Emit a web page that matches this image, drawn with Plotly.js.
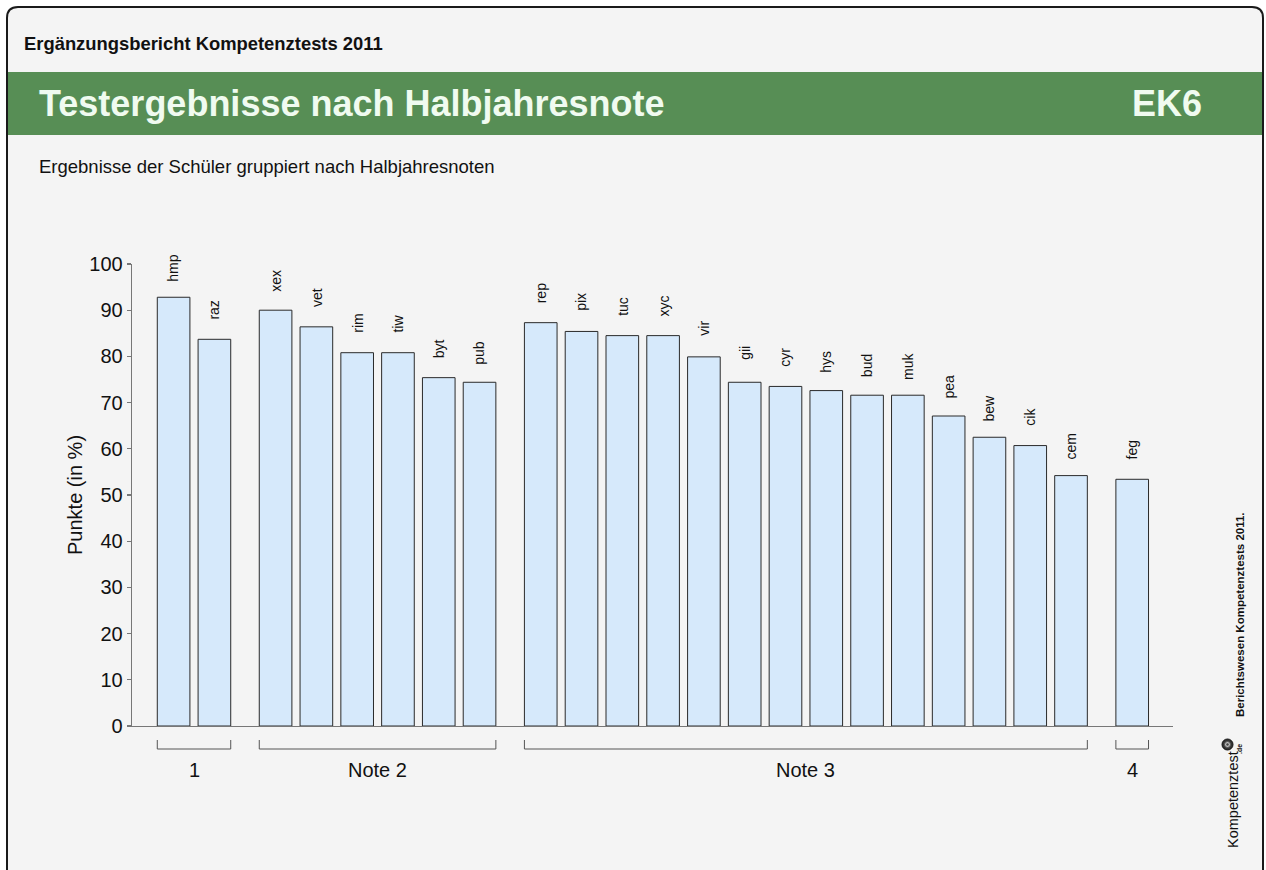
<!DOCTYPE html>
<html>
<head>
<meta charset="utf-8">
<script src="https://cdn.plot.ly/plotly-3.0.1.min.js"></script>
<style>
html,body{margin:0;padding:0;background:#ffffff;}
#chart{width:1266px;height:870px;}
</style>
</head>
<body>
<div id="chart"></div>
<script>
// ---- data ----
const categories = ['hmp','raz','xex','vet','rim','tiw','byt','pub','rep','pix','tuc','xyc','vir','gii','cyr','hys','bud','muk','pea','bew','cik','cem','feg'];
const values = [92.8,83.7,90.0,86.4,80.8,80.8,75.4,74.4,87.3,85.4,84.5,84.5,79.9,74.4,73.5,72.6,71.6,71.6,67.1,62.5,60.7,54.2,53.4];
const groupLabels = ['1','Note 2','Note 3','4'];
const groupSizes = [2,6,14,1];
const yTickVals = [0,10,20,30,40,50,60,70,80,90,100];

const headerText = 'Ergänzungsbericht Kompetenztests 2011';
const titleText = 'Testergebnisse nach Halbjahresnote';
const codeText = 'EK6';
const subtitleText = 'Ergebnisse der Schüler gruppiert nach Halbjahresnoten';
const yTitleText = 'Punkte (in %)';
const sideText = 'Berichtswesen Kompetenztests 2011.';
const logoText = 'Kompetenztest';
const logoSuffix = '.de';

// ---- layout geometry (pixels) ----
const W = 1266, H = 870;
const PL = 132, PR = 1173, PT = 264, PB = 726;
const xp = px => (px - PL) / (PR - PL);
const yp = py => (PB - py) / (PB - PT);

const FONT = 'Liberation Sans, Arial, Helvetica, sans-serif';
const BAR_W = 0.8;

// positions: within group step 1, extra half step between groups
const positions = [];
let k = 0;
groupSizes.forEach((n, g) => {
  for (let i = 0; i < n; i++) { positions.push(k + 0.5 * g); k++; }
});

const bars = {
  type: 'bar',
  x: positions,
  y: values,
  width: BAR_W,
  marker: {color: '#d6e9fb', line: {color: '#2a2a2a', width: 1}},
  hoverinfo: 'skip',
  showlegend: false
};

const annotations = [];
const shapes = [];

// frame with rounded top corners
shapes.push({
  type: 'path', xref: 'paper', yref: 'paper', layer: 'below',
  path: `M ${xp(7)},${yp(900)} L ${xp(7)},${yp(18)} Q ${xp(7)},${yp(7)} ${xp(18)},${yp(7)} L ${xp(1252)},${yp(7)} Q ${xp(1263)},${yp(7)} ${xp(1263)},${yp(18)} L ${xp(1263)},${yp(900)} Z`,
  fillcolor: '#f4f4f4', line: {color: '#1a1a1a', width: 2}
});
// green band
shapes.push({
  type: 'rect', xref: 'paper', yref: 'paper', layer: 'below',
  x0: xp(8), x1: xp(1262), y0: yp(72), y1: yp(135),
  fillcolor: '#578e55', line: {width: 0}
});

// header texts
annotations.push({xref:'paper', yref:'paper', x: xp(22), y: yp(44), xanchor:'left', yanchor:'middle', showarrow:false,
  text: '<b>' + headerText + '</b>', font: {family: FONT, size: 18.4, color: '#111'}});
annotations.push({xref:'paper', yref:'paper', x: xp(37), y: yp(104), xanchor:'left', yanchor:'middle', showarrow:false,
  text: '<b>' + titleText + '</b>', font: {family: FONT, size: 36, color: '#f0fbf0'}});
annotations.push({xref:'paper', yref:'paper', x: xp(1204), y: yp(104), xanchor:'right', yanchor:'middle', showarrow:false,
  text: '<b>' + codeText + '</b>', font: {family: FONT, size: 36, color: '#f0fbf0'}});
annotations.push({xref:'paper', yref:'paper', x: xp(37), y: yp(166), xanchor:'left', yanchor:'middle', showarrow:false,
  text: subtitleText, font: {family: FONT, size: 18.5, color: '#111'}});

// y axis title
annotations.push({xref:'paper', yref:'paper', x: xp(75), y: 0.5, xanchor:'center', yanchor:'middle', showarrow:false,
  textangle: -90, text: yTitleText, font: {family: FONT, size: 20, color: '#111'}});

// bar labels
categories.forEach((c, i) => {
  annotations.push({xref:'x', yref:'y', x: positions[i], y: values[i] + 6.3, xanchor:'center', yanchor:'middle',
    showarrow:false, textangle: -90, text: c, font: {family: FONT, size: 14, color: '#111'}});
});

// group brackets & labels
let start = 0;
groupSizes.forEach((n, g) => {
  const x0 = positions[start] - BAR_W / 2;
  const x1 = positions[start + n - 1] + BAR_W / 2;
  shapes.push({type:'path', xref:'x', yref:'paper', layer:'above',
    path: `M ${x0},${yp(740)} L ${x0},${yp(749)} L ${x1},${yp(749)} L ${x1},${yp(740)}`,
    line: {color: '#555', width: 1}});
  annotations.push({xref:'x', yref:'paper', x: (x0 + x1) / 2, y: yp(770), xanchor:'center', yanchor:'middle',
    showarrow:false, text: groupLabels[g], font: {family: FONT, size: 20, color: '#111'}});
  start += n;
});

// right side texts
annotations.push({xref:'paper', yref:'paper', x: xp(1240), y: yp(615), xanchor:'center', yanchor:'middle', showarrow:false,
  textangle: -90, text: '<b>' + sideText + '</b>', font: {family: FONT, size: 11.5, color: '#111'}});
annotations.push({xref:'paper', yref:'paper', x: xp(1233), y: yp(800), xanchor:'center', yanchor:'middle', showarrow:false,
  textangle: -90, text: logoText, font: {family: FONT, size: 14.5, color: '#111'}});
annotations.push({xref:'paper', yref:'paper', x: xp(1239), y: yp(749), xanchor:'center', yanchor:'middle', showarrow:false,
  textangle: -90, text: '<b>' + logoSuffix + '</b>', font: {family: FONT, size: 7, color: '#111'}});
// logo swirl
shapes.push({type:'circle', xref:'paper', yref:'paper', layer:'above',
  x0: xp(1222), x1: xp(1233), y0: yp(750), y1: yp(739), fillcolor:'#333', line:{color:'#111', width:1}});
shapes.push({type:'circle', xref:'paper', yref:'paper', layer:'above',
  x0: xp(1224.5), x1: xp(1230.5), y0: yp(747.5), y1: yp(741.5), fillcolor:'#bbb', line:{color:'#555', width:1}});
shapes.push({type:'circle', xref:'paper', yref:'paper', layer:'above',
  x0: xp(1226.3), x1: xp(1228.7), y0: yp(745.7), y1: yp(743.3), fillcolor:'#444', line:{width:0}});

const layout = {
  width: W, height: H,
  margin: {l: PL, r: W - PR, t: PT, b: H - PB, pad: 0},
  paper_bgcolor: '#ffffff',
  plot_bgcolor: 'rgba(0,0,0,0)',
  showlegend: false,
  bargap: 0,
  xaxis: {range: [-1.02, 24.5], showline: true, linecolor: '#777', linewidth: 1.3, showticklabels: false,
    ticks: '', showgrid: false, zeroline: false, fixedrange: true},
  yaxis: {range: [0, 100], tickvals: yTickVals, ticks: 'outside', ticklen: 4, tickcolor: '#777', tickwidth: 1.3,
    showline: true, linecolor: '#777', linewidth: 1.3, showgrid: false, zeroline: false, fixedrange: true,
    tickfont: {family: FONT, size: 20, color: '#111'}},
  font: {family: FONT},
  shapes: shapes,
  annotations: annotations
};

Plotly.newPlot('chart', [bars], layout, {displayModeBar: false, staticPlot: true});
</script>
</body>
</html>
